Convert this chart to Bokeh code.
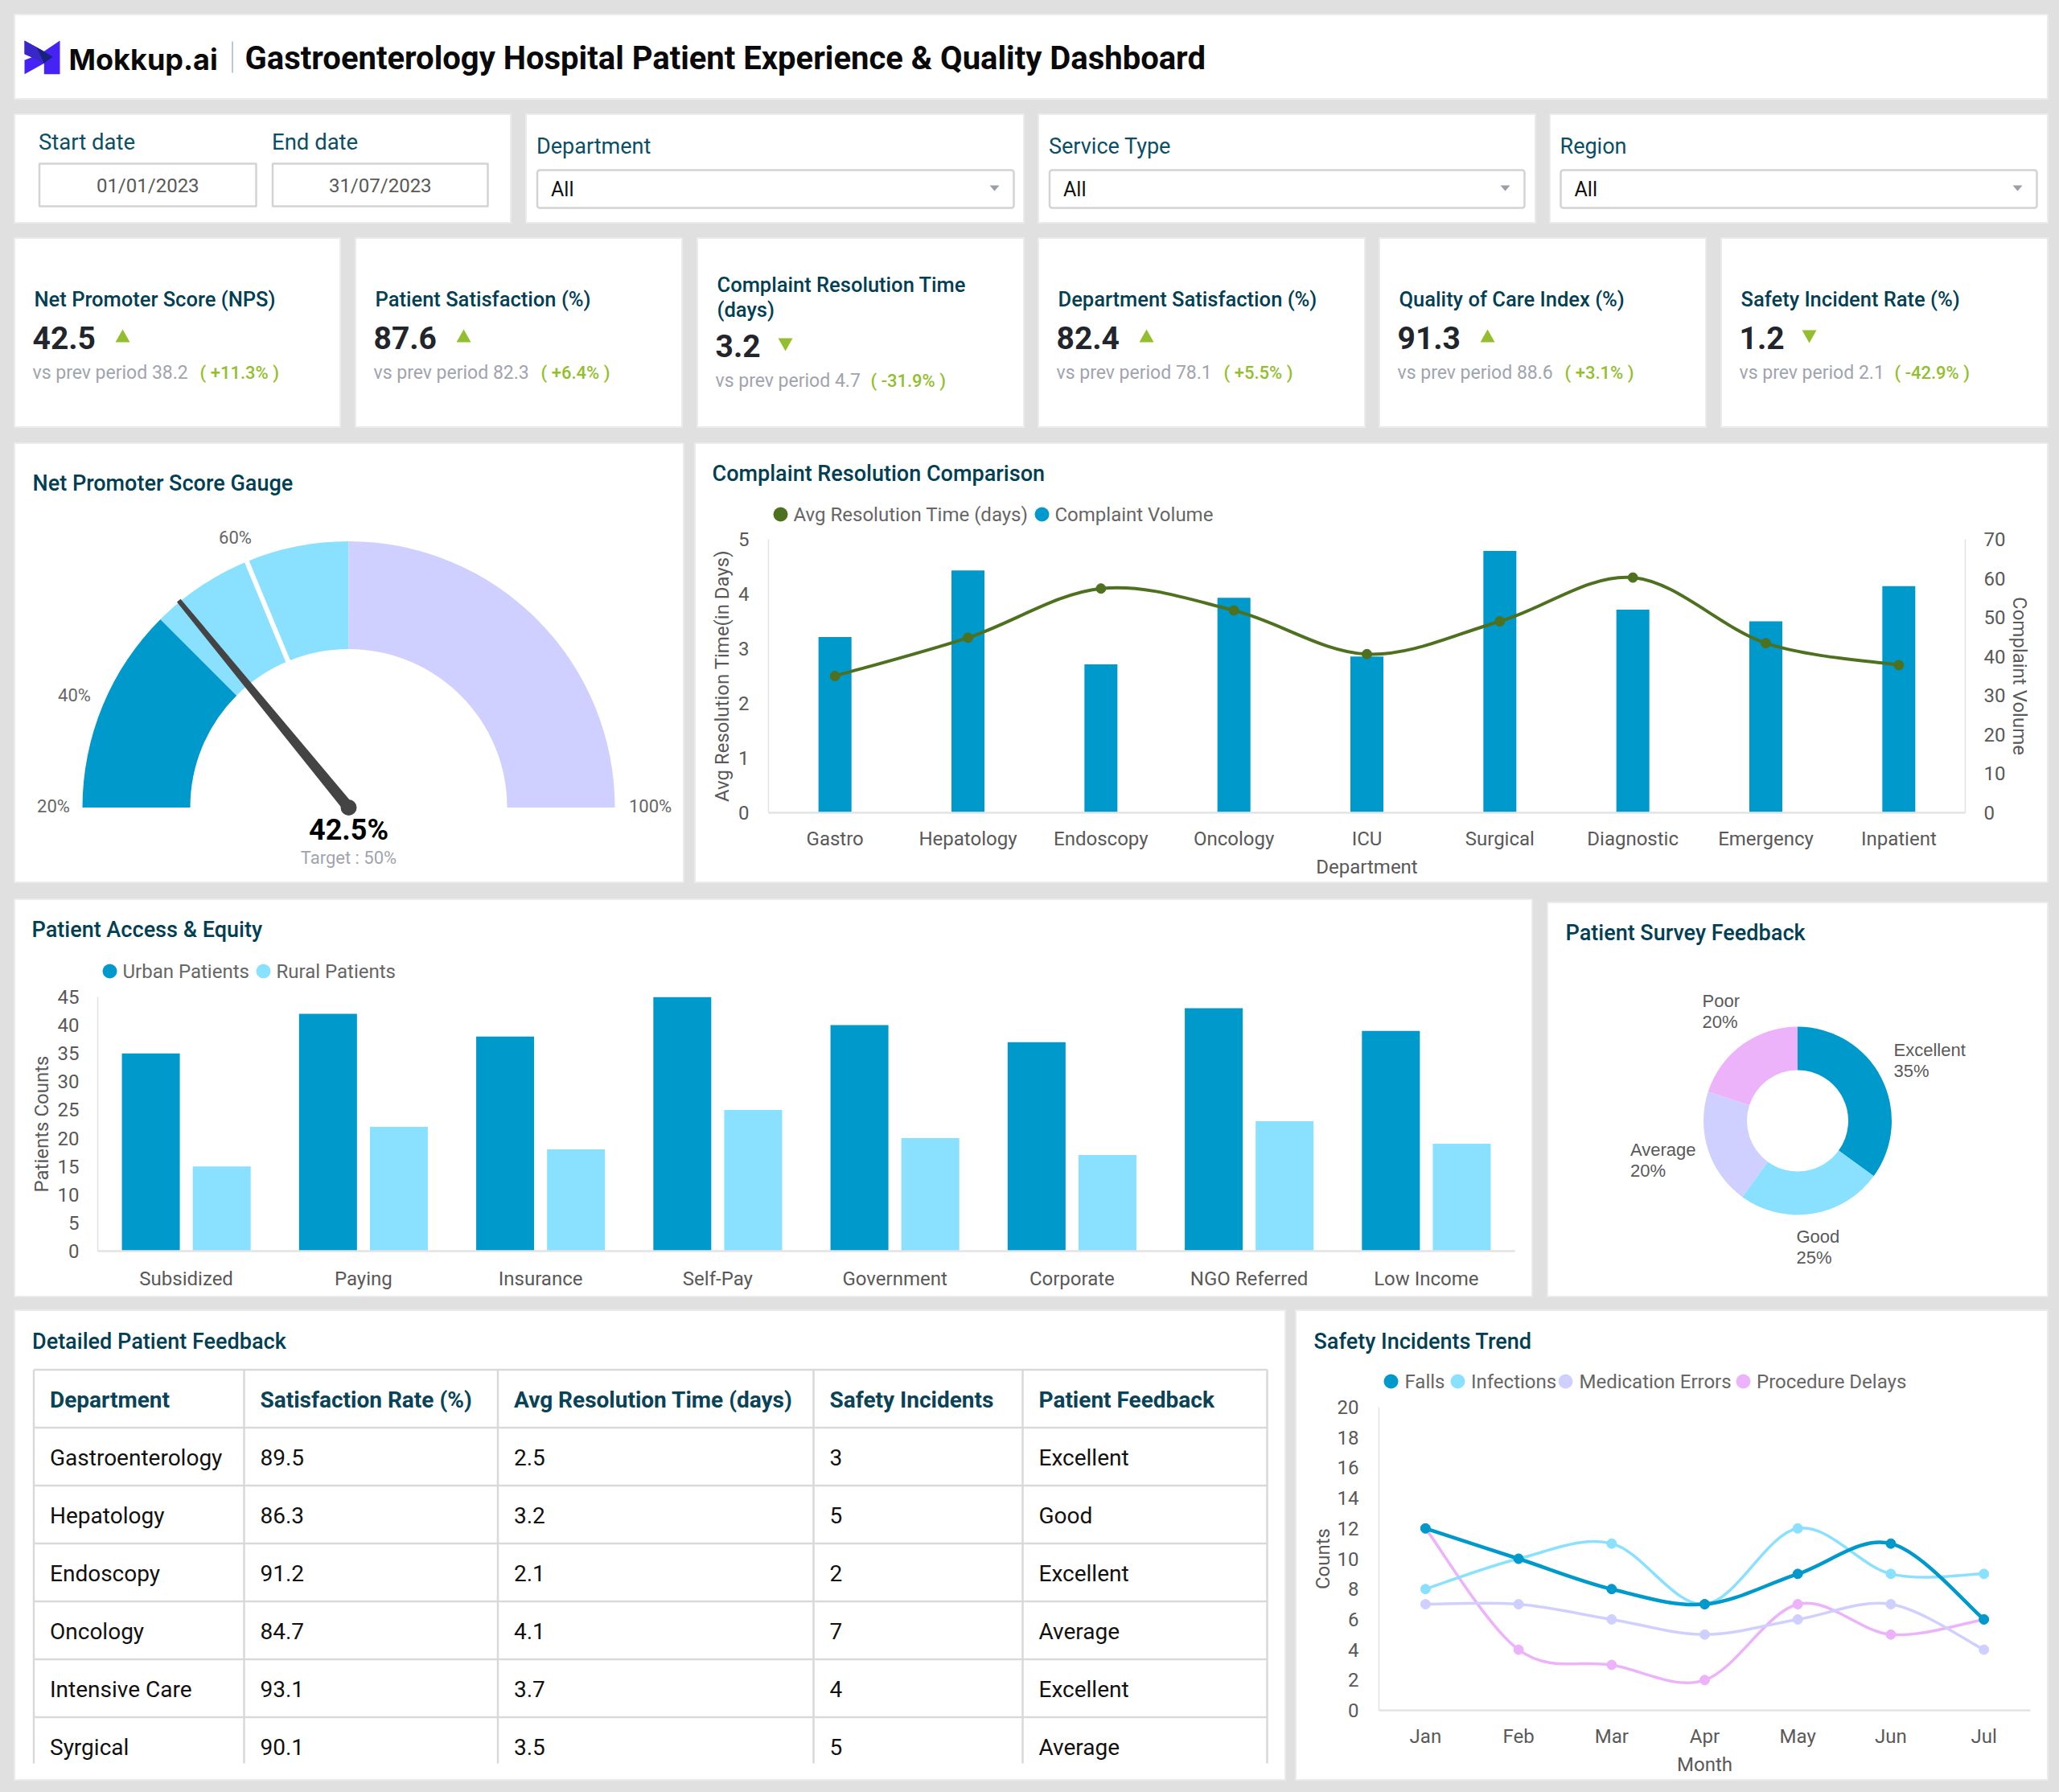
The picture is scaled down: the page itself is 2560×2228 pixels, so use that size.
from bokeh.plotting import figure
from bokeh.layouts import row, column
from bokeh.models import Range1d, LinearAxis, GlobalInlineStyleSheet, FixedTicker, FactorRange, ColumnDataSource
from bokeh.transform import dodge
from bokeh.core.properties import value
from bokeh.embed import file_html
from bokeh.resources import INLINE
import math

# ---------- data ----------
dashboard_title = "Gastroenterology Hospital Patient Experience & Quality Dashboard"
brand = "Mokkup.ai"
date_labels = ["Start date", "End date"]
date_values = ["01/01/2023", "31/07/2023"]
filter_labels = ["Department", "Service Type", "Region"]
filter_values = ["All", "All", "All"]

kpi_titles = [["Net Promoter Score (NPS)"], ["Patient Satisfaction (%)"], ["Complaint Resolution Time", "(days)"],
              ["Department Satisfaction (%)"], ["Quality of Care Index (%)"], ["Safety Incident Rate (%)"]]
kpi_values = ["42.5", "87.6", "3.2", "82.4", "91.3", "1.2"]
kpi_prev = ["38.2", "82.3", "4.7", "78.1", "88.6", "2.1"]
kpi_changes = ["+11.3%", "+6.4%", "-31.9%", "+5.5%", "+3.1%", "-42.9%"]
kpi_up = [True, True, False, True, True, False]

gauge_min = 20
gauge_max = 100
gauge_bands = [40, 60, 100]
gauge_value = 42.5
gauge_target = 50
gauge_ticks = ["20%", "40%", "60%", "100%"]

complaint_departments = ["Gastro", "Hepatology", "Endoscopy", "Oncology", "ICU", "Surgical", "Diagnostic", "Emergency", "Inpatient"]
avg_resolution_time = [2.5, 3.2, 4.1, 3.7, 2.9, 3.5, 4.3, 3.1, 2.7]
complaint_volume = [45, 62, 38, 55, 40, 67, 52, 49, 58]

access_groups = ["Subsidized", "Paying", "Insurance", "Self-Pay", "Government", "Corporate", "NGO Referred", "Low Income"]
urban_patients = [35, 42, 38, 45, 40, 37, 43, 39]
rural_patients = [15, 22, 18, 25, 20, 17, 23, 19]

survey_labels = ["Excellent", "Good", "Average", "Poor"]
survey_shares = [35, 25, 20, 20]

table_headers = ["Department", "Satisfaction Rate (%)", "Avg Resolution Time (days)", "Safety Incidents", "Patient Feedback"]
table_departments = ["Gastroenterology", "Hepatology", "Endoscopy", "Oncology", "Intensive Care", "Syrgical"]
table_satisfaction = ["89.5", "86.3", "91.2", "84.7", "93.1", "90.1"]
table_resolution = ["2.5", "3.2", "2.1", "4.1", "3.7", "3.5"]
table_incidents = ["3", "5", "2", "7", "4", "5"]
table_feedback = ["Excellent", "Good", "Excellent", "Average", "Excellent", "Average"]

months = ["Jan", "Feb", "Mar", "Apr", "May", "Jun", "Jul"]
falls = [12, 10, 8, 7, 9, 11, 6]
infections = [8, 10, 11, 7, 12, 9, 9]
medication_errors = [7, 7, 6, 5, 6, 7, 4]
procedure_delays = [12, 4, 3, 2, 7, 5, 6]

# ---------- style ----------
BG = "#e0e0e0"
RING = "#ebebeb"
TITLE = "#033f54"
AXIS = "#595959"
BLUE = "#0099cc"
SKY = "#89e0ff"
LAV = "#cfd0ff"
PINK = "#ecb3fb"
OLIVE = "#4e7120"
GREEN = "#93bf2f"
GREY = "#a0a4ae"
GRID = "#d9d9d9"
FONT = "Roboto"
MED = "Roboto Medium"
WHITE = {"background-color": "white"}
SHADOW = {"background-color": "white", "box-shadow": f"0 0 0 2px {RING}"}


def page_panel(x0, y0, x1, y1, ring=True):
    """Panel whose frame fills it; its ranges are the page's own pixels."""
    return figure(frame_width=x1 - x0, frame_height=y1 - y0, output_backend="svg", toolbar_location=None,
                  background_fill_color=None, border_fill_color=None, outline_line_color=None,
                  styles=SHADOW if ring else WHITE, x_range=Range1d(x0, x1), y_range=Range1d(y1, y0),
                  min_border=0, min_border_left=0, min_border_right=0, min_border_top=0, min_border_bottom=0,
                  x_axis_type=None, y_axis_type=None, frame_align=False)


def txt(p, x, y, text, size, color, font=FONT, style="normal", align="left", base="alphabetic"):
    if base == "alphabetic":
        y = y - 0.3 * size
    if align == "left":
        x = x - 1
    p.text(x=[x], y=[y], text=[text], text_font=value(font), text_font_size=f"{size}px", text_color=color,
           text_font_style=style, text_align=align, text_baseline=base)


def chart_panel(box, frame, x_range, y_range):
    x0, y0, x1, y1 = box
    fx0, fy0, fx1, fy1 = frame
    p = figure(width=x1 - x0, height=y1 - y0, output_backend="svg", toolbar_location=None,
               background_fill_color=None, border_fill_color=None, outline_line_color=None,
               styles=WHITE, x_range=x_range, y_range=y_range, frame_align=False,
               min_border_left=fx0 - x0, min_border_right=x1 - fx1,
               min_border_top=fy0 - y0, min_border_bottom=y1 - fy1)
    p.grid.visible = False
    return p


def style_axis(ax, title=None, standoff=20, label_standoff=8, line=AXIS, lw=1):
    ax.axis_line_color = line
    ax.axis_line_width = lw
    ax.major_tick_line_color = None
    ax.minor_tick_line_color = None
    ax.major_label_text_font = FONT
    ax.major_label_text_font_size = "24px"
    ax.major_label_text_color = AXIS
    ax.major_label_standoff = standoff
    if title:
        ax.axis_label = title
        ax.axis_label_text_font = FONT
        ax.axis_label_text_font_size = "24px"
        ax.axis_label_text_font_style = "normal"
        ax.axis_label_text_color = AXIS
        ax.axis_label_standoff = label_standoff


def dot(p, cx, cy, color):
    p.scatter(x=[cx], y=[cy], size=18, fill_color=color, line_color=None)


def smooth(p, values, color, width, size, markers_x):
    """Cardinal spline through the values, drawn with Bokeh's bezier glyph."""
    n = len(values)
    xs = [i + 0.5 for i in range(n)]
    x0, y0, x1, y1, c0x, c0y, c1x, c1y = [], [], [], [], [], [], [], []
    for i in range(n - 1):
        a = values[max(i - 1, 0)]
        b, c = values[i], values[i + 1]
        d = values[min(i + 2, n - 1)]
        x0.append(xs[i]); y0.append(b); x1.append(xs[i + 1]); y1.append(c)
        c0x.append(xs[i] + (xs[i + 1] - xs[max(i - 1, 0)]) / 6); c0y.append(b + (c - a) / 6)
        c1x.append(xs[i + 1] - (xs[min(i + 2, n - 1)] - xs[i]) / 6); c1y.append(c - (d - b) / 6)
    p.bezier(x0=x0, y0=y0, x1=x1, y1=y1, cx0=c0x, cy0=c0y, cx1=c1x, cy1=c1y,
             line_color=color, line_width=width, line_cap="round")
    p.scatter(x=markers_x, y=values, size=size, fill_color=color, line_color=color)


# ---------- header ----------
hdr = page_panel(19, 19, 2545, 122)
logo_x, logo_y = 15, 30
def lg(points):
    return [logo_x + a / 3 for a, b in points], [logo_y + b / 3 for a, b in points]
xs, ys = lg([(45, 60), (118, 100), (177, 60), (177, 185), (118, 185), (118, 145), (45, 185), (45, 133), (72, 122), (45, 110)])
hdr.patch(xs, ys, fill_color="#4722f5", line_color=None)
xs, ys = lg([(45, 60), (90, 85), (118, 145), (72, 122), (45, 110)])
hdr.patch(xs, ys, fill_color="#3a27c8", line_color=None)
xs, ys = lg([(90, 85), (150, 120), (118, 145)])
hdr.patch(xs, ys, fill_color="#17227f", line_color=None)
txt(hdr, 86, 84, brand, 36, "#0a0a0a", font="Inter", style="bold")
hdr.segment([288.5], [51], [288.5], [90], line_color="#a9b6c4", line_width=1.5)
txt(hdr, 305, 84, dashboard_title, 40, "#0a0a0a", font=FONT, style="bold")

# ---------- filters ----------
f_date = page_panel(19, 143, 634, 276)
for lab, val, bx0, bx1 in zip(date_labels, date_values, [48.5, 338.5], [318, 606]):
    txt(f_date, bx0, 184, lab, 27.5, "#0b4f66")
    f_date.quad(left=[bx0], right=[bx1], top=[203], bottom=[256], fill_color="white", line_color="#d3d3d3", line_width=2.5)
    txt(f_date, (bx0 + bx1) / 2, 238, val, 24, AXIS, align="center")

filter_panels = []
for lab, val, px0, px1, bx0, bx1 in zip(filter_labels, filter_values, [655, 1292, 1928], [1272, 1908, 2545],
                                        [667.5, 1304.5, 1940], [1260, 1895, 2532]):
    f = page_panel(px0, 143, px1, 276)
    txt(f, bx0, 190, lab, 27, "#0b4f66")
    f.quad(left=[bx0], right=[bx1], top=[211], bottom=[258], fill_color="white", line_color="#d3d3d3", line_width=2.5,
           border_radius=3)
    txt(f, bx0 + 18, 242.5, val, 25, "#111111")
    ax = bx1 - 24
    f.patch([ax - 6, ax + 6, ax], [230, 230, 237], fill_color="#9a9ea8", line_color=None)
    filter_panels.append(f)

# ---------- KPI cards ----------
kpi_boxes = [(19, 422), (443, 847), (868, 1272), (1292, 1696), (1716, 2120), (2141, 2545)]
kpi_panels = []
for box, title, val, prev, chg, up in zip(kpi_boxes, kpi_titles, kpi_values, kpi_prev, kpi_changes, kpi_up):
    p = page_panel(box[0], 297, box[1], 530)
    shift = 10 if len(title) > 1 else 0
    if len(title) > 1:
        txt(p, box[0] + 24, 361.5, title[0], 25.5, TITLE, font=MED)
        txt(p, box[0] + 24, 392.5, title[1], 25.5, TITLE, font=MED)
    else:
        txt(p, box[0] + 24, 379, title[0], 25.5, TITLE, font=MED)
    txt(p, box[0] + 22, 431 + shift, val, 39, "#22252b", style="bold")
    ax = box[0] + (133 if len(val) > 3 else 108)
    if up:
        p.patch([ax - 9, ax + 9, ax], [425 + shift, 425 + shift, 409 + shift], fill_color=GREEN, line_color=None)
    else:
        p.patch([ax - 9, ax + 9, ax], [410 + shift, 410 + shift, 426 + shift], fill_color=GREEN, line_color=None)
    txt(p, box[0] + 22, 470 + shift, f"vs prev period {prev}", 23, GREY)
    off = 230 if len(val) > 3 else 215
    txt(p, box[0] + off, 470 + shift, f"( {chg} )", 22, GREEN, font=MED)
    kpi_panels.append(p)

# ---------- gauge ----------
gauge = page_panel(19, 552, 849, 1096)
txt(gauge, 41, 609, "Net Promoter Score Gauge", 27, TITLE, font=MED)
cx, cy, r_out, r_in = 433, 1003.5, 331, 197
def g_angle(v):
    return math.pi * (1 - (v - gauge_min) / (gauge_max - gauge_min))
band_edges = [gauge_min] + gauge_bands
for lo, hi, col in zip(band_edges[:-1], band_edges[1:], [BLUE, SKY, LAV]):
    gauge.annular_wedge(x=[cx], y=[cy], inner_radius=r_in, outer_radius=r_out, start_angle=g_angle(hi), end_angle=g_angle(lo),
                        fill_color=col, line_color=None)
ta = g_angle(gauge_target)
gauge.line([cx + (r_in - 3) * math.cos(ta), cx + (r_out + 3) * math.cos(ta)],
           [cy - (r_in - 3) * math.sin(ta), cy - (r_out + 3) * math.sin(ta)], line_color="white", line_width=6)
na = g_angle(gauge_value)
nx, ny = math.cos(na), -math.sin(na)
tx, ty = -ny, nx
tip = 333
gauge.patch([cx + 7 * tx, cx + tip * nx + 3 * tx, cx + tip * nx - 3 * tx, cx - 7 * tx],
            [cy + 7 * ty, cy + tip * ny + 3 * ty, cy + tip * ny - 3 * ty, cy - 7 * ty], fill_color="#444444", line_color=None)
gauge.scatter(x=[cx], y=[cy], size=20, fill_color="#444444", line_color=None)
for t, x, y in zip(gauge_ticks, [66, 92, 292, 808], [1002, 863.5, 668, 1002]):
    txt(gauge, x, y, t, 22, "#666666", align="center", base="middle")
txt(gauge, cx, 1042, f"{gauge_value}%", 36, "#000000", style="bold", align="center")
txt(gauge, cx, 1073, f"Target : {gauge_target}%", 22, GREY, align="center")

# ---------- complaint chart ----------
comp_head = page_panel(865, 552, 2545, 656, ring=False)
txt(comp_head, 886, 597, "Complaint Resolution Comparison", 27, TITLE, font=MED)
dot(comp_head, 970, 639, OLIVE)
txt(comp_head, 987, 647, "Avg Resolution Time (days)", 24, "#666666")
dot(comp_head, 1295, 639, BLUE)
txt(comp_head, 1312, 647, "Complaint Volume", 24, "#666666")

comp = chart_panel((865, 656, 2545, 1096), (955, 670, 2443, 1010), FactorRange(factors=complaint_departments), Range1d(0, 5))
comp.extra_y_ranges = {"vol": Range1d(0, 70)}
comp.vbar(x=complaint_departments, top=complaint_volume, width=0.248, y_range_name="vol", fill_color=BLUE, line_color=None)
smooth(comp, avg_resolution_time, OLIVE, 4, 12, complaint_departments)
style_axis(comp.yaxis[0], "Avg Resolution Time(in Days)", 18, 3, "#e3e3e3", 1.5)
comp.yaxis[0].ticker = FixedTicker(ticks=[0, 1, 2, 3, 4, 5])
ra = LinearAxis(y_range_name="vol", ticker=FixedTicker(ticks=list(range(0, 71, 10))))
style_axis(ra, "Complaint Volume", 17, 1, "#e3e3e3", 1.5)
comp.add_layout(ra, "right")
style_axis(comp.xaxis[0], "Department", 12, 4, "#e3e3e3", 2.5)
comp_group = column(comp_head, comp, spacing=0, styles=SHADOW)

# ---------- access chart ----------
acc_head = page_panel(19, 1119, 1904, 1225, ring=False)
txt(acc_head, 40, 1164, "Patient Access & Equity", 27, TITLE, font=MED)
dot(acc_head, 136, 1207, BLUE)
txt(acc_head, 153, 1215, "Urban Patients", 24, "#666666")
dot(acc_head, 327, 1207, SKY)
txt(acc_head, 344, 1215, "Rural Patients", 24, "#666666")

acc = chart_panel((19, 1225, 1904, 1611), (121, 1239, 1883, 1555), FactorRange(factors=access_groups), Range1d(0, 45))
src = ColumnDataSource(dict(g=access_groups, u=urban_patients, r=rural_patients))
acc.vbar(x=dodge("g", -0.2, range=acc.x_range), top="u", width=0.327, source=src, fill_color=BLUE, line_color=None)
acc.vbar(x=dodge("g", 0.2, range=acc.x_range), top="r", width=0.327, source=src, fill_color=SKY, line_color=None)
style_axis(acc.yaxis[0], "Patients Counts", 17, 3, "#e3e3e3", 1.5)
acc.yaxis[0].ticker = FixedTicker(ticks=list(range(0, 46, 5)))
style_axis(acc.xaxis[0], None, 14, 8, "#e3e3e3", 2.5)
acc_group = column(acc_head, acc, spacing=0, styles=SHADOW)

# ---------- donut ----------
don = page_panel(1925, 1123, 2545, 1611)
txt(don, 1947, 1168, "Patient Survey Feedback", 27, TITLE, font=MED)
dx, dy = 2234.5, 1393
ang = math.pi / 2
for share, col in zip(survey_shares, [BLUE, SKY, LAV, PINK]):
    end = ang - share / sum(survey_shares) * 2 * math.pi
    don.annular_wedge(x=[dx], y=[dy], inner_radius=63, outer_radius=117, start_angle=end, end_angle=ang,
                      fill_color=col, line_color=None)
    ang = end
for name, share, x, y in zip(survey_labels, survey_shares, [2355, 2234, 2027.5, 2117], [1312, 1544, 1436, 1251]):
    txt(don, x, y, name, 22, "#595959", font="Liberation Sans")
    txt(don, x, y + 26, f"{share}%", 22, "#595959", font="Liberation Sans")

# ---------- table ----------
tab = page_panel(19, 1630, 1597, 2212)
txt(tab, 40.5, 1676, "Detailed Patient Feedback", 27, TITLE, font=MED)
col_x = [41.5, 303, 618.5, 1011, 1271, 1575]
row_y = [1702.5 + 72 * i for i in range(7)]
tab.segment(x0=[col_x[0]] * 7, y0=row_y, x1=[col_x[-1]] * 7, y1=row_y, line_color=GRID, line_width=2.5)
tab.segment(x0=col_x, y0=[1702.5] * 6, x1=col_x, y1=[2192] * 6, line_color=GRID, line_width=2.5)
text_x = [c + 21 for c in col_x[:5]]
for h, x in zip(table_headers, text_x):
    txt(tab, x, 1748, h, 28, "#0a4358", font=FONT, style="bold")
for i, cells in enumerate(zip(table_departments, table_satisfaction, table_resolution, table_incidents, table_feedback)):
    for c, x in zip(cells, text_x):
        txt(tab, x, 1820 + 72 * i, c, 28, "#111111")

# ---------- safety chart ----------
saf_head = page_panel(1612, 1630, 2545, 1735, ring=False)
txt(saf_head, 1634, 1675.5, "Safety Incidents Trend", 27, TITLE, font=MED)
for name, col, dx_, tx_ in zip(["Falls", "Infections", "Medication Errors", "Procedure Delays"], [BLUE, SKY, LAV, PINK],
                               [1729, 1812, 1946, 2167], [1747, 1829.5, 1964, 2184.5]):
    dot(saf_head, dx_, 1717, col)
    txt(saf_head, tx_, 1725, name, 24, "#666666")

saf = chart_panel((1612, 1735, 2545, 2212), (1714, 1749, 2524, 2126), FactorRange(factors=months), Range1d(0, 20))
smooth(saf, procedure_delays, PINK, 3.5, 12, months)
smooth(saf, medication_errors, LAV, 3.5, 12, months)
smooth(saf, infections, SKY, 3.5, 12, months)
smooth(saf, falls, BLUE, 4.5, 12, months)
style_axis(saf.yaxis[0], "Counts", 19, 1, "#e3e3e3", 1.5)
saf.yaxis[0].ticker = FixedTicker(ticks=list(range(0, 21, 2)))
style_axis(saf.xaxis[0], "Month", 12, 4, "#e3e3e3", 2.5)
saf_group = column(saf_head, saf, spacing=0, styles=SHADOW)

# ---------- page ----------
def place(rows):
    out = []
    prev_bottom = 0
    for items in rows:
        top = prev_bottom
        kids = []
        prev_right = 0
        bottom = 0
        for p, x0, y0, x1, y1 in items:
            p.margin = (int(y0 - top), 0, 0, int(x0 - prev_right))
            kids.append(p)
            prev_right = x1
            bottom = max(bottom, y1)
        out.append(row(*kids, spacing=0))
        prev_bottom = bottom
    return column(*out, spacing=0)

rows = [
    [(hdr, 19, 19, 2545, 122)],
    [(f_date, 19, 143, 634, 276)] + [(f, a, 143, b, 276) for f, (a, b) in zip(filter_panels, [(655, 1272), (1292, 1908), (1928, 2545)])],
    [(k, b[0], 297, b[1], 530) for k, b in zip(kpi_panels, kpi_boxes)],
    [(gauge, 19, 552, 849, 1096), (comp_group, 865, 552, 2545, 1096)],
    [(acc_group, 19, 1119, 1904, 1611), (don, 1925, 1123, 2545, 1611)],
    [(tab, 19, 1630, 1597, 2212), (saf_group, 1612, 1630, 2545, 2212)],
]
page = place(rows)
page.stylesheets = [GlobalInlineStyleSheet(css=f"html,body{{background:{BG};}}")]

open("out.html", "w").write(file_html(page, INLINE))
